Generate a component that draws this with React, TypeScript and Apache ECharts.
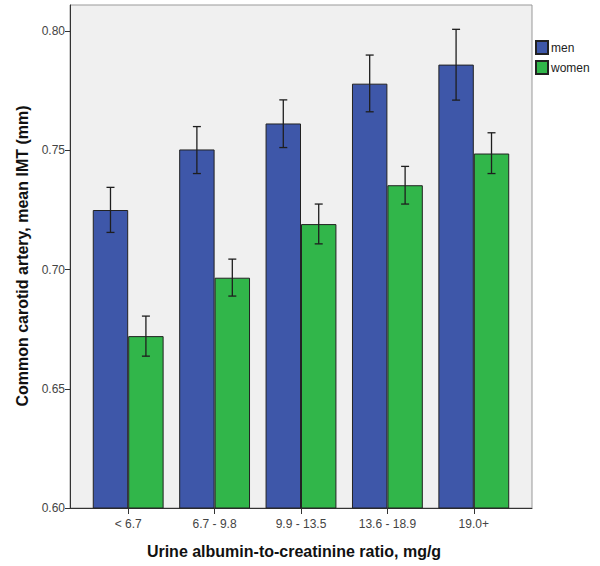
import React, { useEffect, useRef } from "react";
import * as echarts from "echarts";

const categories = ["< 6.7", "6.7 - 9.8", "9.9 - 13.5", "13.6 - 18.9", "19.0+"];
const menMean = [0.725, 0.7504, 0.7613, 0.778, 0.786];
const menLow = [0.7156, 0.7403, 0.7512, 0.7662, 0.7711];
const menHigh = [0.7345, 0.760, 0.7712, 0.790, 0.8008];
const womenMean = [0.6721, 0.6966, 0.7191, 0.7354, 0.7487];
const womenLow = [0.6637, 0.6889, 0.7108, 0.7275, 0.7403];
const womenHigh = [0.6805, 0.7044, 0.7275, 0.7433, 0.7574];
const yTicks = [0.6, 0.65, 0.7, 0.75, 0.8];

const MEN_COLOR = "#3e57a9";
const WOMEN_COLOR = "#31b64a";
const CAT_GAP = 0.18;

function errorSeries(low: number[], high: number[], side: number) {
  return {
    type: "custom",
    xAxisIndex: 1,
    yAxisIndex: 1,
    silent: true,
    z: 10,
    data: low.map((l, i) => [i, l, high[i]]),
    encode: { x: 0, y: [1, 2] },
    renderItem: (params: any, api: any) => {
      const idx = api.value(0);
      const lo = api.coord([idx, api.value(1)]);
      const hi = api.coord([idx, api.value(2)]);
      const band = api.size([1, 0])[0];
      const bw = (band * (1 - CAT_GAP)) / 2;
      const x = lo[0] + side * bw / 2;
      const cap = 4;
      const style = { stroke: "#1e1e1e", lineWidth: 1.3 };
      return {
        type: "group",
        children: [
          { type: "line", shape: { x1: x, y1: lo[1], x2: x, y2: hi[1] }, style },
          { type: "line", shape: { x1: x - cap, y1: lo[1], x2: x + cap, y2: lo[1] }, style },
          { type: "line", shape: { x1: x - cap, y1: hi[1], x2: x + cap, y2: hi[1] }, style },
        ],
      };
    },
  };
}

export default function App() {
  const ref = useRef<HTMLDivElement>(null);
  useEffect(() => {
    if (!ref.current) return;
    const chart = echarts.init(ref.current, null, { renderer: "svg" });
    const font = "'Liberation Sans', Arial, sans-serif";
    chart.setOption({
      animation: false,
      textStyle: { fontFamily: font },
      grid: [
        { left: 70, top: 5, width: 462, height: 503, show: true, backgroundColor: "#f0f0f0", borderColor: "#999", borderWidth: 1 },
        { left: 85, top: 5, width: 432, height: 503, show: false },
      ],
      xAxis: [
        {
          gridIndex: 0, type: "value", min: 0, max: 1,
          axisLine: { show: true, lineStyle: { color: "#333", width: 1 } },
          axisTick: { show: false }, axisLabel: { show: false }, splitLine: { show: false },
        },
        {
          gridIndex: 1, type: "category", data: categories,
          axisLine: { show: false },
          axisTick: { show: true, alignWithLabel: true, length: 6, lineStyle: { color: "#333" } },
          axisLabel: { color: "#444", fontSize: 12, margin: 10, fontFamily: font },
        },
      ],
      yAxis: [
        {
          gridIndex: 0, type: "value", min: 0.6, max: 0.811,
          axisLine: { show: true, lineStyle: { color: "#333", width: 1 } },
          axisTick: { show: true, length: 5, lineStyle: { color: "#333" }, customValues: yTicks },
          axisLabel: { color: "#444", fontSize: 12, margin: 5, fontFamily: font, customValues: yTicks, formatter: (v: number) => v.toFixed(2) },
          splitLine: { show: false },
        },
        {
          gridIndex: 1, type: "value", min: 0.6, max: 0.811, show: false, splitLine: { show: false },
        },
      ],
      legend: {
        data: ["men", "women"],
        orient: "vertical",
        left: 535,
        top: 40,
        itemWidth: 12,
        itemHeight: 13,
        itemGap: 5,
        icon: "rect",
        textStyle: { fontSize: 12, color: "#222", fontFamily: font, padding: [0, 0, 0, -2] },
        padding: 0,
      },
      series: [
        {
          name: "men", type: "bar", xAxisIndex: 1, yAxisIndex: 1, data: menMean,
          barGap: "0%", barCategoryGap: CAT_GAP * 100 + "%",
          itemStyle: { color: MEN_COLOR, borderColor: "#222", borderWidth: 1 },
        },
        {
          name: "women", type: "bar", xAxisIndex: 1, yAxisIndex: 1, data: womenMean,
          barGap: "0%", barCategoryGap: CAT_GAP * 100 + "%",
          itemStyle: { color: WOMEN_COLOR, borderColor: "#222", borderWidth: 1 },
        },
        errorSeries(menLow, menHigh, -1),
        errorSeries(womenLow, womenHigh, 1),
      ],
      graphic: [
        {
          type: "text", x: 22, y: 256, rotation: Math.PI / 2,
          style: { text: "Common carotid artery, mean IMT (mm)", font: "bold 16px " + font, fill: "#111", textAlign: "center", textVerticalAlign: "middle" },
        },
        {
          type: "text", x: 294, y: 551,
          style: { text: "Urine albumin-to-creatinine ratio, mg/g", font: "bold 16px " + font, fill: "#111", textAlign: "center", textVerticalAlign: "middle" },
        },
      ],
    });
    return () => chart.dispose();
  }, []);
  return <div ref={ref} style={{ width: 600, height: 566, position: "absolute", left: 0, top: 0 }} />;
}
